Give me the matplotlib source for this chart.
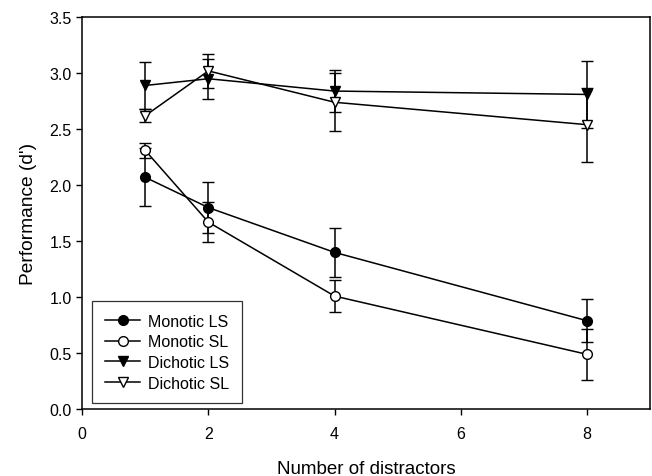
import matplotlib
matplotlib.use('Agg')
import matplotlib.pyplot as plt

# Data
distractors = [1, 2, 4, 8]

monotic_ls = [2.07, 1.80, 1.40, 0.79]
monotic_ls_err = [0.26, 0.23, 0.22, 0.19]

monotic_sl = [2.31, 1.67, 1.01, 0.49]
monotic_sl_err = [0.07, 0.18, 0.14, 0.23]

dichotic_ls = [2.89, 2.95, 2.84, 2.81]
dichotic_ls_err = [0.21, 0.18, 0.19, 0.30]

dichotic_sl = [2.62, 3.02, 2.74, 2.54]
dichotic_sl_err = [0.06, 0.15, 0.26, 0.33]

x_ticks = [0, 2, 4, 6, 8]
y_ticks = [0.0, 0.5, 1.0, 1.5, 2.0, 2.5, 3.0, 3.5]

plt.rcParams['font.family'] = ['Liberation Sans', 'DejaVu Sans']

fig = plt.figure(figsize=(6.52, 4.77), dpi=100)
ax = fig.add_axes([0.126, 0.140, 0.871, 0.822])

series = [
    (monotic_ls, monotic_ls_err, 'o', 'black', 'Monotic LS'),
    (monotic_sl, monotic_sl_err, 'o', 'white', 'Monotic SL'),
    (dichotic_ls, dichotic_ls_err, 'v', 'black', 'Dichotic LS'),
    (dichotic_sl, dichotic_sl_err, 'v', 'white', 'Dichotic SL'),
]

for values, errs, marker, face, label in series:
    ax.errorbar(
        distractors, values, yerr=errs,
        color='black', linewidth=1.1, elinewidth=1.1,
        capsize=4.5, capthick=1.1,
        marker=marker, markersize=7, markerfacecolor=face,
        markeredgecolor='black', markeredgewidth=1.0,
        label=label,
    )

ax.set_xlim(0, 9)
ax.set_ylim(0, 3.5)
ax.set_xticks(x_ticks)
ax.set_yticks(y_ticks)
ax.set_yticklabels([f'{v:.1f}' for v in y_ticks])
ax.tick_params(direction='out', length=4, width=1, labelsize=11.5)
ax.tick_params(axis='x', pad=8)

for spine in ax.spines.values():
    spine.set_linewidth(1.1)

ax.set_xlabel('Number of distractors', fontsize=13.5, labelpad=13.5)
ax.set_ylabel("Performance (d')", fontsize=13.8, labelpad=9)

handles, labels = ax.get_legend_handles_labels()
handles = [h[0] for h in handles]
leg = ax.legend(
    handles, labels, loc='lower left', fontsize=11.5,
    frameon=True, fancybox=False, edgecolor='black',
    handlelength=2.2, handletextpad=0.5, borderpad=0.8,
    labelspacing=0.35, borderaxespad=0,
    bbox_to_anchor=(0.018, 0.015),
)
leg.get_frame().set_linewidth(0.9)

fig.savefig('out.png', dpi=100)
